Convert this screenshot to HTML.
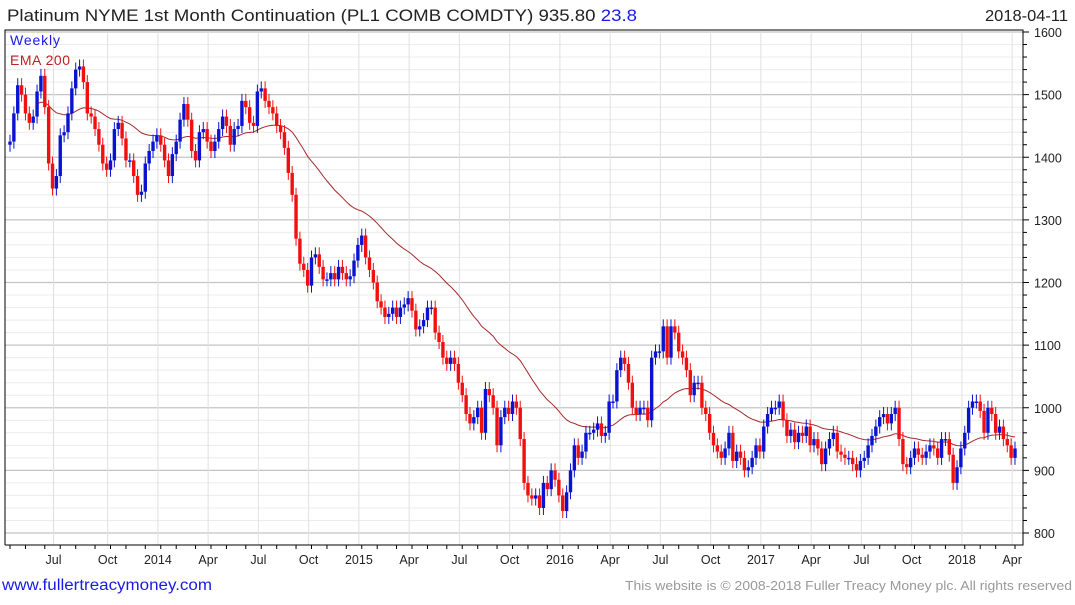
<!DOCTYPE html>
<html><head><meta charset="utf-8">
<style>
body{margin:0;background:#fff;font-family:"Liberation Sans",sans-serif;}
svg text{font-family:"Liberation Sans",sans-serif;}
</style></head>
<body>
<svg id="chart" width="1075" height="600" xmlns="http://www.w3.org/2000/svg">
<rect width="1075" height="600" fill="#fff"/>
<g id="grid"></g>
<g id="ema"></g>
<g id="candles"></g>
<g id="axes"></g>
<text x="7" y="21" font-size="16.5" fill="#222" textLength="630" lengthAdjust="spacingAndGlyphs">Platinum NYME 1st Month Continuation (PL1 COMB COMDTY) 935.80 <tspan fill="#1a1ae6">23.8</tspan></text>
<text x="985" y="21" font-size="16" fill="#222" textLength="83" lengthAdjust="spacingAndGlyphs">2018-04-11</text>
<text x="10" y="45" font-size="14" fill="#1a1ae6" textLength="50">Weekly</text>
<text x="10" y="65" font-size="14" fill="#b22" textLength="60">EMA 200</text>
<text x="2" y="590" font-size="15.5" fill="#1a1ae6" textLength="210" lengthAdjust="spacingAndGlyphs">www.fullertreacymoney.com</text>
<text x="625" y="590" font-size="13" fill="#999" textLength="447" lengthAdjust="spacingAndGlyphs">This website is © 2008-2018 Fuller Treacy Money plc. All rights reserved</text>
</svg>
<script>
const closes = [1425,1470,1515,1500,1470,1455,1465,1505,1530,1480,1390,1350,
1370,1435,1440,1470,1510,1540,1545,1520,1470,1465,1445,1420,1390,1380,
1395,1445,1455,1430,1395,1395,1370,1340,1345,1390,1410,1425,1435,
1420,1395,1370,1405,1425,1460,1485,1460,1410,1395,1440,1445,1425,
1410,1425,1445,1465,1450,1420,1445,1450,1490,1480,1455,1450,1505,
1510,1490,1480,1470,1450,1440,1415,1375,1340,1270,1230,1220,1195,
1240,1245,1225,1205,1205,1215,1205,1225,1215,1205,1210,1235,1260,
1275,1240,1220,1200,1170,1160,1145,1150,1160,1145,1160,1165,1175,
1155,1125,1130,1140,1160,1160,1120,1105,1080,1070,1080,1070,1040,
1020,990,975,985,1000,960,1030,1020,1000,940,985,1000,990,
1010,1000,950,880,860,855,860,840,880,870,900,885,860,
835,865,900,940,920,930,960,960,965,975,955,960,1010,
1010,1060,1080,1070,1040,1000,990,1000,1000,980,1080,1090,1090,
1130,1080,1130,1120,1090,1080,1060,1020,1040,1040,1000,990,960,
940,930,920,935,960,915,930,920,900,905,920,940,930,
970,990,1000,1000,1010,980,955,965,945,960,955,970,940,
950,935,910,935,950,960,930,925,920,920,910,900,915,
920,940,955,970,985,990,975,990,1000,950,910,905,920,
935,925,920,930,940,935,920,950,950,925,880,905,935,
960,1000,1010,1010,995,960,1000,990,960,970,950,940,920,935];
const yTicks = [800,900,1000,1100,1200,1300,1400,1500,1600];
const xLabels = ["Jul","Oct","2014","Apr","Jul","Oct","2015","Apr","Jul","Oct","2016","Apr","Jul","Oct","2017","Apr","Jul","Oct","2018","Apr"];
const xLabelWeeks = [12,26,39,52,65,78,91,104,117,130,143,156,169,182,195,208,221,234,247,260];
const emaSeed = 1490;

const NS="http://www.w3.org/2000/svg";
const L=5,R=1023,T=30,B=545;
const x0=10, dx=(1015-10)/260;
function xs(i){return x0+i*dx;}
function ys(v){return 32+(1600-v)*(533-32)/800;}
function mk(tag,attrs,parent){const e=document.createElementNS(NS,tag);for(const k in attrs)e.setAttribute(k,attrs[k]);parent.appendChild(e);return e;}
const grid=document.getElementById('grid'),axes=document.getElementById('axes'),cg=document.getElementById('candles'),eg=document.getElementById('ema');
for(let v=800;v<=1600;v+=20){
  const major=v%100===0;
  const ln=mk('line',{x1:L,x2:R,y1:ys(v),y2:ys(v),stroke:major?'#c4c4c4':'#ececec','stroke-width':major?1.2:1},grid);
  
  
  const tk=mk('line',{x1:R,x2:R+(major?6:4),y1:ys(v),y2:ys(v),stroke:'#000'},axes);
  
  
}
yTicks.forEach(v=>{
  const t=mk('text',{x:1034,y:ys(v)+5,'font-size':12.5,fill:'#222'},axes);
  t.textContent=v;
  
  
});
xLabels.forEach((lab,k)=>{
  const x=xs(xLabelWeeks[k]-1)+1;
  const g=mk('line',{x1:x,x2:x,y1:T,y2:B,stroke:'#e0e0e0'},grid);
  
  
  const t=mk('text',{x:x,y:564,'font-size':12.5,fill:'#222','text-anchor':'middle'},axes);
  t.textContent=lab;
  
  
});
for(let i=0;i<closes.length;i+=4.33){
  const tk=mk('line',{x1:xs(Math.round(i)),x2:xs(Math.round(i)),y1:B,y2:B+4,stroke:'#000'},axes);
  
  
}
const frame=mk('path',{d:`M${L},${B} L${L},${T} L${R},${T} L${R},${B} L${L},${B}`,fill:'none',stroke:'#000'},axes);


let e=emaSeed;const a=2/(41);let pts=[];
closes.forEach((c,i)=>{e=e+a*(c-e);if(i>=7)pts.push(xs(i).toFixed(1)+','+ys(e).toFixed(1));});
const pl=mk('polyline',{points:pts.join(' '),fill:'none',stroke:'#a52a2a','stroke-width':1},eg);


closes.forEach((c,i)=>{
  const o=i===0?1420:closes[i-1];
  const up=c>=o;const col=up?'#0a14d0':'#f01010';
  const x=xs(i);
  const top=ys(Math.max(o,c)),bot=ys(Math.min(o,c));
  const w=mk('line',{x1:x,x2:x,y1:top-7,y2:bot+7,stroke:col,'stroke-width':1},cg);
  
  
  const r=mk('rect',{x:x-1.7,y:top,width:3.4,height:Math.max(1.5,bot-top),fill:col},cg);
  
  
});
</script>
</body></html>
